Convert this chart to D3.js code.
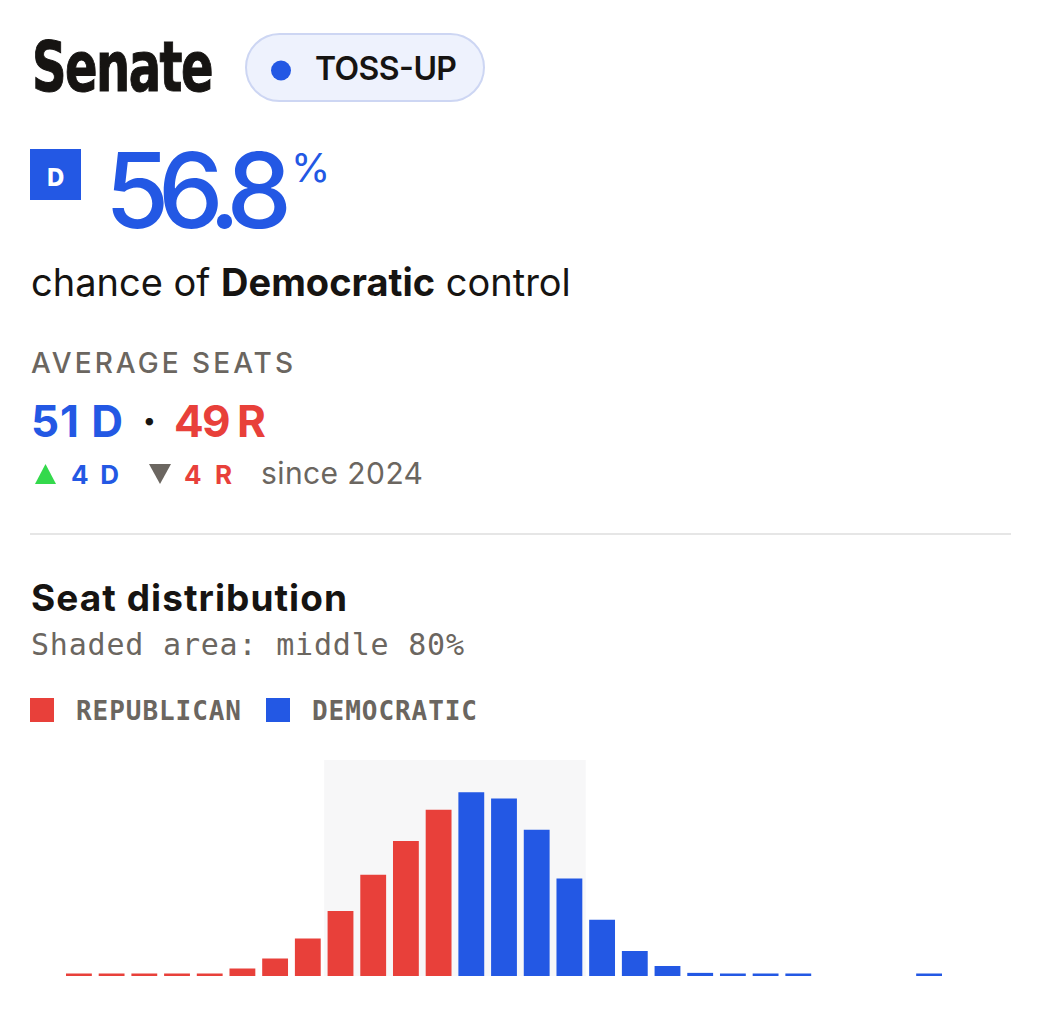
<!DOCTYPE html>
<html lang="en">
<head>
  <meta charset="UTF-8" />
  <title>Senate seat distribution</title>
  <script src="https://d3js.org/d3.v7.min.js"></script>
  <style>
    html, body {
      margin: 0;
      padding: 0;
      background: #fff;
      overflow: hidden;
    }
    svg { display: block; }
  </style>
</head>
<body>
  <div id="chart"></div>

  <script>
    /**************************************************************
     *                        DATA
     **************************************************************/
    // Democratic seat counts, one bar each
    const seats = [39, 40, 41, 42, 43, 44, 45, 46, 47, 48, 49, 50, 51, 52,
                   53, 54, 55, 56, 57, 58, 59, 60, 61, 62, 63, 64, 65];

    // Probability of each outcome (%)
    const probs = [0.2, 0.2, 0.2, 0.2, 0.2, 0.6, 1.4, 3.0, 5.2, 8.1, 10.8, 13.3, 14.7, 14.2,
                   11.7, 7.8, 4.5, 2.0, 0.8, 0.25, 0.2, 0.2, 0.2, 0, 0, 0, 0.2];

    // Seats needed for Democratic control
    const demMajority = 51;

    // Middle 80% range (shaded)
    const shadedRange = [47, 54];

    const legendLabels = ["REPUBLICAN", "DEMOCRATIC"];

    const RED = "#e8403a";
    const BLUE = "#2358e4";
    const GRAY = "#6b6660";
    const INK = "#161412";

    /**************************************************************
     *                        SVG
     **************************************************************/
    const width = 1050, height = 1026;

    const svg = d3.select("#chart")
      .append("svg")
      .attr("width", width)
      .attr("height", height);

    svg.append("rect")
      .attr("width", width)
      .attr("height", height)
      .attr("fill", "#fff");

    const sans = "Inter, 'Noto Sans', sans-serif";
    const mono = "'DejaVu Sans Mono', 'Liberation Mono', monospace";

    // Title
    svg.append("text")
      .attr("x", 32)
      .attr("y", 91)
      .attr("font-family", "'Liberation Sans Narrow', 'DejaVu Sans Condensed', sans-serif")
      .attr("font-weight", 700)
      .attr("font-size", 70)
      .attr("letter-spacing", -2)
      .attr("textLength", 180)
      .attr("lengthAdjust", "spacingAndGlyphs")
      .attr("stroke", "#161412")
      .attr("stroke-width", 1)
      .attr("fill", INK)
      .text("Senate");

    // Toss-up pill
    svg.append("rect")
      .attr("x", 246).attr("y", 34)
      .attr("width", 238).attr("height", 67)
      .attr("rx", 33.5)
      .attr("fill", "#eef2fd")
      .attr("stroke", "#cdd6f3")
      .attr("stroke-width", 2);

    svg.append("circle")
      .attr("cx", 281).attr("cy", 70.5)
      .attr("r", 10)
      .attr("fill", BLUE);

    svg.append("text")
      .attr("x", 315).attr("y", 80)
      .attr("font-family", sans)
      .attr("font-weight", 600)
      .attr("font-size", 32)
      .attr("textLength", 142)
      .attr("fill", INK)
      .text("TOSS-UP");

    // Big probability
    svg.append("rect")
      .attr("x", 30).attr("y", 149)
      .attr("width", 51).attr("height", 51)
      .attr("fill", BLUE);

    svg.append("text")
      .attr("x", 55.5).attr("y", 186)
      .attr("text-anchor", "middle")
      .attr("font-family", "'Liberation Sans Narrow', 'DejaVu Sans Condensed', sans-serif")
      .attr("font-weight", 700)
      .attr("font-size", 24)
      .attr("fill", "#fff")
      .text("D");

    svg.append("text")
      .attr("x", 105).attr("y", 228)
      .attr("font-family", sans)
      .attr("font-weight", 500)
      .attr("font-size", 104)
      .attr("textLength", 187)
      .attr("fill", BLUE)
      .text("56.8");

    svg.append("text")
      .attr("x", 291).attr("y", 182)
      .attr("font-family", sans)
      .attr("font-weight", 400)
      .attr("font-size", 40)
      .attr("fill", BLUE)
      .text("%");

    const chance = svg.append("text")
      .attr("x", 31).attr("y", 296)
      .attr("font-family", sans)
      .attr("font-size", 38)
      .attr("fill", INK);
    chance.append("tspan").text("chance of ");
    chance.append("tspan").attr("font-weight", 700).text("Democratic");
    chance.append("tspan").text(" control");

    // Average seats block
    svg.append("text")
      .attr("x", 31).attr("y", 373)
      .attr("font-family", sans)
      .attr("font-weight", 500)
      .attr("font-size", 28)
      .attr("textLength", 262)
      .attr("fill", GRAY)
      .text("AVERAGE SEATS");

    const seatRow = [
      { t: "51 D", x: 31, w: 92, c: BLUE },
      { t: "·", x: 142, w: 10, c: INK },
      { t: "49 R", x: 174, w: 92, c: RED }
    ];
    svg.selectAll("text.avg")
      .data(seatRow)
      .enter()
      .append("text")
      .attr("class", "avg")
      .attr("x", d => d.x).attr("y", 437)
      .attr("font-family", sans)
      .attr("font-weight", 700)
      .attr("font-size", 44)
      .attr("textLength", d => d.w)
      .attr("fill", d => d.c)
      .text(d => d.t);

    // change since 2024
    svg.append("path")
      .attr("d", "M35,484 L45.5,464 L56,484 Z")
      .attr("fill", "#34d94c");
    svg.append("path")
      .attr("d", "M149,464 L171,464 L160,484 Z")
      .attr("fill", GRAY);

    svg.append("text")
      .attr("x", 71).attr("y", 484)
      .attr("font-family", sans).attr("font-weight", 700).attr("font-size", 26)
      .attr("textLength", 48)
      .attr("fill", BLUE)
      .text("4 D");
    svg.append("text")
      .attr("x", 184).attr("y", 484)
      .attr("font-family", sans).attr("font-weight", 700).attr("font-size", 26)
      .attr("textLength", 48)
      .attr("fill", RED)
      .text("4 R");
    svg.append("text")
      .attr("x", 261).attr("y", 484)
      .attr("font-family", sans).attr("font-size", 30)
      .attr("textLength", 162)
      .attr("fill", GRAY)
      .text("since 2024");

    // divider
    svg.append("line")
      .attr("x1", 30).attr("x2", 1011)
      .attr("y1", 534).attr("y2", 534)
      .attr("stroke", "#e6e6e6")
      .attr("stroke-width", 2);

    // Chart heading
    svg.append("text")
      .attr("x", 31).attr("y", 611)
      .attr("font-family", sans)
      .attr("font-weight", 700)
      .attr("font-size", 37)
      .attr("textLength", 316)
      .attr("fill", INK)
      .text("Seat distribution");

    svg.append("text")
      .attr("x", 31).attr("y", 655)
      .attr("font-family", mono)
      .attr("font-size", 30)
      .attr("textLength", 433)
      .attr("fill", GRAY)
      .text("Shaded area: middle 80%");

    // Legend
    const legend = svg.selectAll("g.legend")
      .data(legendLabels)
      .enter()
      .append("g")
      .attr("class", "legend")
      .attr("transform", (d, i) => `translate(${i === 0 ? 30 : 266},698)`);

    legend.append("rect")
      .attr("width", 24).attr("height", 24)
      .attr("fill", (d, i) => i === 0 ? RED : BLUE);

    legend.append("text")
      .attr("x", 46).attr("y", 21.5)
      .attr("font-family", mono)
      .attr("font-weight", 700)
      .attr("font-size", 26)
      .attr("textLength", 165)
      .attr("fill", GRAY)
      .text(d => d);

    /**************************************************************
     *                   BAR CHART
     **************************************************************/
    const x = d3.scaleBand()
      .domain(seats)
      .range([66, 942])
      .paddingInner(0.21)
      .paddingOuter(0);

    const y = d3.scaleLinear()
      .domain([0, 16])
      .range([976, 776]);

    const gap = x.step() - x.bandwidth();

    // middle-80% shading
    svg.append("rect")
      .attr("x", x(shadedRange[0]) - gap / 2)
      .attr("y", 760)
      .attr("width", x(shadedRange[1]) + x.bandwidth() + gap / 2 - (x(shadedRange[0]) - gap / 2))
      .attr("height", y(0) - 760)
      .attr("fill", "#f7f7f8");

    svg.selectAll("rect.bar")
      .data(seats.map((s, i) => ({ seat: s, p: probs[i] })))
      .enter()
      .append("rect")
      .attr("class", "bar")
      .attr("x", d => x(d.seat))
      .attr("y", d => y(d.p))
      .attr("width", x.bandwidth())
      .attr("height", d => y(0) - y(d.p))
      .attr("fill", d => d.seat >= demMajority ? BLUE : RED);
  </script>
</body>
</html>
